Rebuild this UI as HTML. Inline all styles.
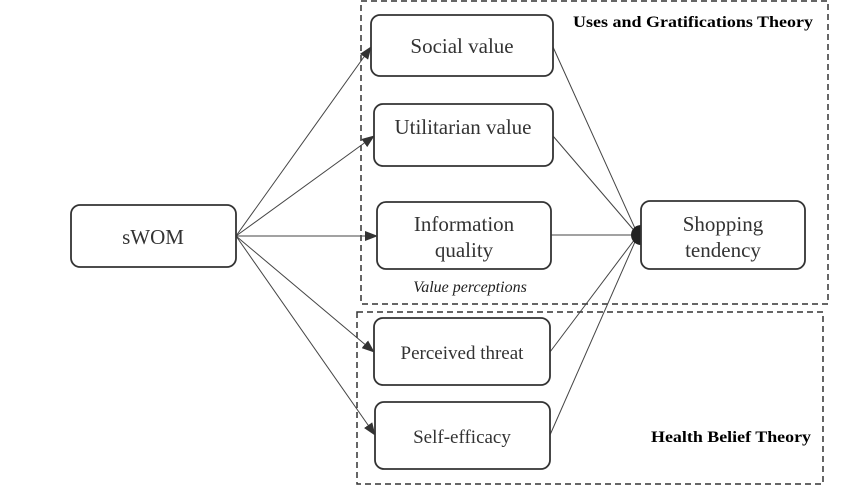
<!DOCTYPE html><html><head><style>body{margin:0;background:#fff}svg{display:block}</style></head><body>
<svg width="847" height="499" viewBox="0 0 847 499" xmlns="http://www.w3.org/2000/svg">
<defs><marker id="a" markerWidth="13" markerHeight="10" refX="12" refY="5" orient="auto" markerUnits="userSpaceOnUse"><path d="M0,0 L13,5 L0,10 Z" fill="#333"/></marker></defs>
<g fill="none" stroke="#333" stroke-width="1.5" stroke-dasharray="6,4">
<rect x="361" y="1" width="467" height="303"/>
<rect x="357" y="312" width="466" height="172"/>
</g>
<g stroke="#444" stroke-width="1">
<line x1="236" y1="236" x2="371" y2="47" marker-end="url(#a)"/>
<line x1="236" y1="236" x2="374" y2="136" marker-end="url(#a)"/>
<line x1="236" y1="236" x2="377" y2="236" marker-end="url(#a)"/>
<line x1="236" y1="236" x2="374" y2="352" marker-end="url(#a)"/>
<line x1="236" y1="236" x2="375" y2="435" marker-end="url(#a)"/>
<line x1="553" y1="47" x2="638" y2="235"/>
<line x1="553" y1="136" x2="638" y2="235"/>
<line x1="551" y1="235" x2="638" y2="235"/>
<line x1="550" y1="352" x2="638" y2="235"/>
<line x1="550" y1="435" x2="638" y2="235"/>
</g>
<path d="M641,225 A10,10 0 0 0 641,245 Z" fill="#222"/>
<g fill="#fff" stroke="#333" stroke-width="1.8">
<rect x="71" y="205" width="165" height="62" rx="9"/>
<rect x="371" y="15" width="182" height="61" rx="9"/>
<rect x="374" y="104" width="179" height="62" rx="9"/>
<rect x="377" y="202" width="174" height="67" rx="9"/>
<rect x="374" y="318" width="176" height="67" rx="9"/>
<rect x="375" y="402" width="175" height="67" rx="9"/>
<rect x="641" y="201" width="164" height="68" rx="9"/>
</g>
<g font-family="Liberation Serif, serif" font-size="21" fill="#333" text-anchor="middle">
<text x="153" y="244">sWOM</text>
<text x="462" y="53">Social value</text>
<text x="463" y="134">Utilitarian value</text>
<text x="464" y="231">Information</text>
<text x="464" y="257">quality</text>
<text x="462" y="359" font-size="19">Perceived threat</text>
<text x="462" y="443" font-size="19">Self-efficacy</text>
<text x="723" y="231">Shopping</text>
<text x="723" y="257">tendency</text>
</g>
<text x="470" y="292" font-family="Liberation Serif, serif" font-size="16" font-style="italic" text-anchor="middle" fill="#222">Value perceptions</text>
<text x="573" y="27" font-family="Liberation Serif, serif" font-size="16" font-weight="bold" fill="#000" textLength="240" lengthAdjust="spacingAndGlyphs">Uses and Gratifications Theory</text>
<text x="651" y="442" font-family="Liberation Serif, serif" font-size="16" font-weight="bold" fill="#000" textLength="160" lengthAdjust="spacingAndGlyphs">Health Belief Theory</text>
</svg>
</body></html>
